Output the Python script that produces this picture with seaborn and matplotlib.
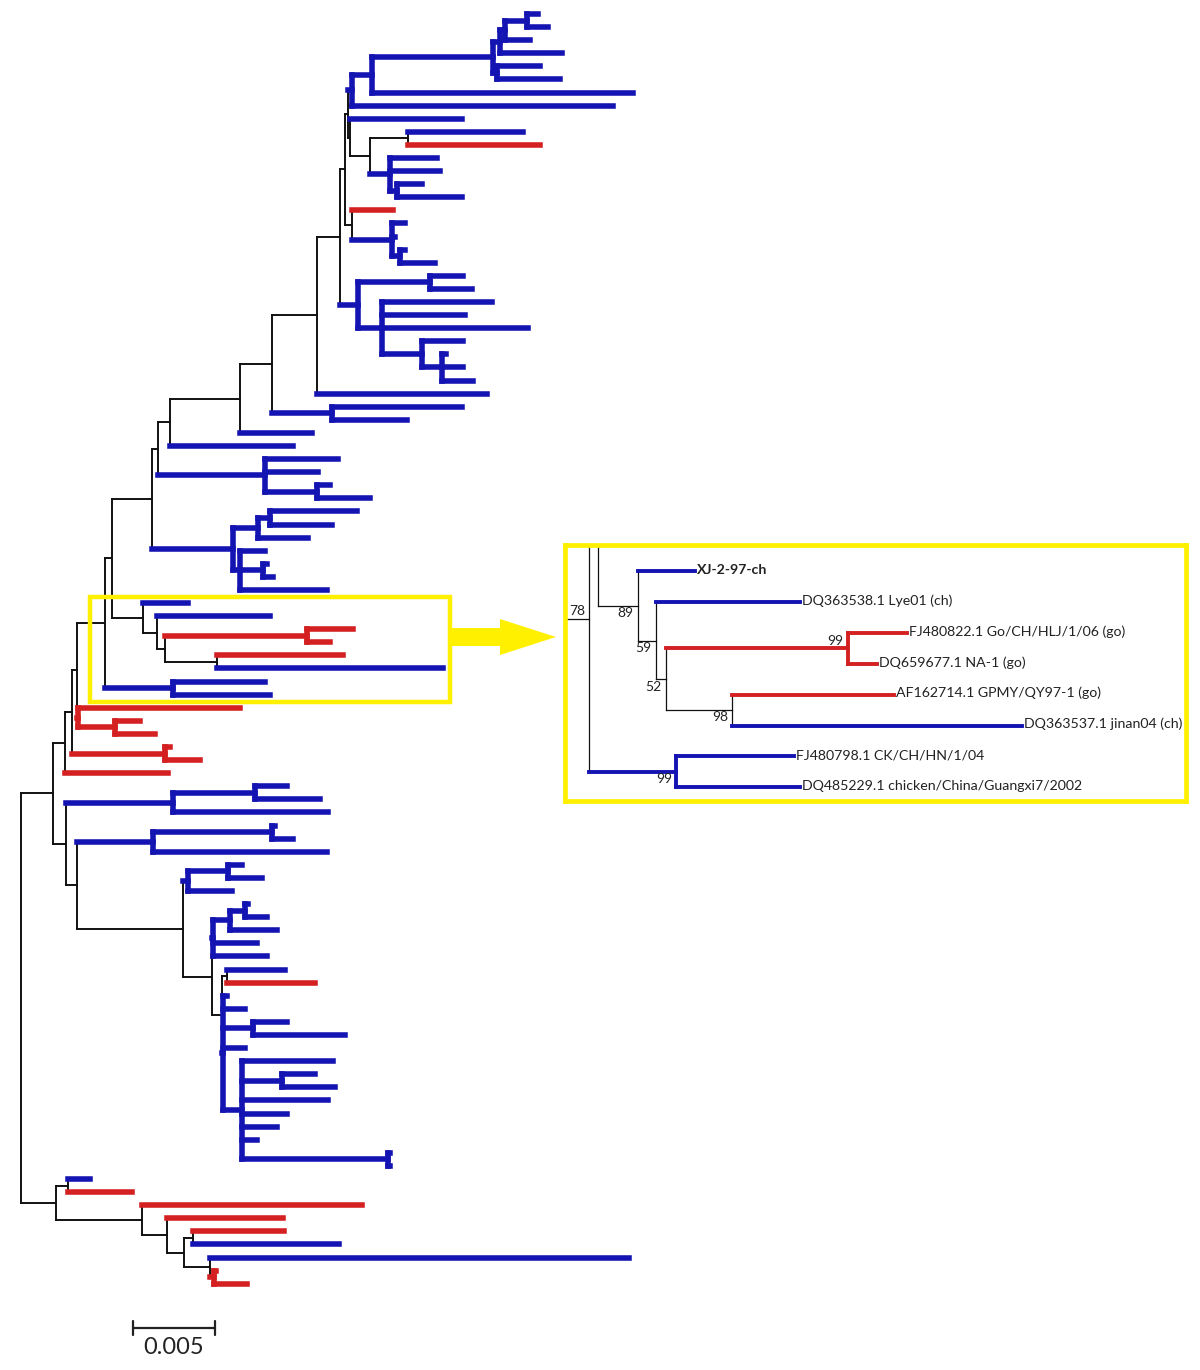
import re
import pandas as pd
import seaborn as sns
import matplotlib.pyplot as plt
from matplotlib.patches import Polygon, Rectangle

sns.set_theme(style="white")
plt.rcParams['font.family'] = ['Lato', 'DejaVu Sans']

# newick pieces, branch lengths in 1e-4 substitutions/site
# label after a leaf/clade = colour (b blue, r red, k black) + optional number
# (leaf: index into LEAF_NAMES, internal node: bootstrap value)
TOP_CLADE = "((((((b:6.7,b:12.8)b:13.4,b:15.2)b:3.0,b:37.8)b:4.3,(b:26.2,b:38.4)b:2.4)b:73.8,b:159.2)b:12.2,b:159.2)b:2.4"
CLADE_370 = "((b:70.1,r:80.5)k:23.2,(b:28.7,b:30.5,(b:15.2,b:39.6)b:4.3)b:12.2)k:12.2"
CLADE_210 = "(r:25.0,(b:7.9,b:1.8,(b:3.0,b:21.3)b:4.9)b:24.4)k:4.3"
CLADE_300 = "((b:20.1,b:25.6)b:43.9,(b:67.1,b:50.6,b:89.0,(b:25.0,(b:2.4,b:12.8,b:18.9)b:12.2)b:24.4)b:14.6)b:11.0"
CLADE_460 = "(b:44.5,b:32.3,(b:7.9,b:32.3)b:31.7)b:65.3"
CLADE_530 = "(((b:53.1,b:37.8)b:7.3,b:30.5)b:15.2,(b:15.2,(b:2.4,b:6.1)b:14.0,b:53.1)b:4.3)b:49.4"
INSET_TOP = "(b1:27.4,(b2:68.9,((r3:28.1,r4:14.0)r99:86.6,(r5:76.9,b6:137.8)k98:31.7)k52:4.9)k59:8.5)k89:18.9"
INSET_BOTTOM = "(b7:56.1,b8:59.2)b99:41.5"
RED_710 = "(r:98.8,(r:15.2,r:24.4)r:22.6)r:0.6"
RED_750 = "(r:3.0,r:21.3)r:56.7"
MID_A = "((b:19.5,b:39.6)b:50.0,b:94.5)b:65.3"
MID_B = "((b:1.8,b:12.8)b:72.6,b:106.1)b:46.3"
MID_C = "((b:8.5,b:20.7)b:24.4,b:26.8)b:3.0"
MID_D = "(((b:1.8,b:13.4)b:9.1,b:28.7)b:10.4,b:26.8,b:32.9)b:0.6"
MID_E = "(b:35.4,r:53.7)k:3.0"
MID_F = "(b:55.5,(b:20.1,b:32.3)b:24.4,b:52.4,b:27.4,b:21.3,b:9.1,(b:1.2,b:1.2)b:89.0)b:11.6"
BASAL = "((b:13.4,r:39.0)k:7.3,(r:134.1,(r:70.7,((r:55.5,b:89.0)k:5.5,(b:255.5,(r:1.2,r:20.1)r:2.4)k:15.9)k:10.4)k:15.2)k:52.4)k:21.3"

LEAF_NAMES = ["XJ-2-97-ch", "DQ363538.1 Lye01 (ch)", "FJ480822.1 Go/CH/HLJ/1/06 (go)",
              "DQ659677.1 NA-1 (go)", "AF162714.1 GPMY/QY97-1 (go)", "DQ363537.1 jinan04 (ch)",
              "FJ480798.1 CK/CH/HN/1/04", "DQ485229.1 chicken/China/Guangxi7/2002"]
SCALE_LEN = 50  # = 0.005
SCALE_TEXT = "0.005"

# put the pieces together
upper = f"((({TOP_CLADE},(b:68.3,{CLADE_370})k:1.2)k:1.8,{CLADE_210})k:3.0,{CLADE_300})k:14.0"
t = f"({upper},b:103.7)k:27.4"
t = f"({t},(b:79.3,b:45.7)b:36.6)k:19.5"
t = f"({t},b:43.9)k:42.7"
t = f"({t},b:75.0)k:7.3"
t = f"({t},{CLADE_460})k:3.7"
t = f"({t},{CLADE_530})k:24.4"
t = f"({t},{INSET_TOP})k:4.3"
t = f"({t},{INSET_BOTTOM})k78:17.1"
t = f"({t},{RED_710})k:3.0"
t = f"({t},{RED_750})k:4.3"
upper_half = f"({t},r:62.8)k:7.3"
mid = f"(b:2.4,b:13.4,(b:20.7,b:56.1)b:18.3,b:13.4,{MID_F})b:0.6"
mid = f"({MID_E},{mid})k:6.1"
mid = f"({MID_D},{mid})k:17.7"
mid = f"({MID_C},{mid})k:64.6"
mid = f"({MID_B},{mid})k:6.7"
mid = f"({MID_A},{mid})k:7.9"
TREE = f"(({upper_half},{mid})k:19.5,{BASAL})k;"

COLORS = {'b': '#1414b2', 'r': '#d42020', 'k': '#111111'}
YELLOW = '#fff000'
W, H = 1200, 1370
ROOT_PX, PX_PER_UNIT = 21, 82 / SCALE_LEN
LEAF0_PX, LEAF_STEP_PX = 14, 13.09

tok = re.compile(r'([brk])(\d*)(?::([\d.]+))?')


def parse_newick(text):
    pos = 0

    def clade():
        nonlocal pos
        kids = []
        if text[pos] == '(':
            pos += 1
            kids.append(clade())
            while text[pos] == ',':
                pos += 1
                kids.append(clade())
            pos += 1
        m = tok.match(text, pos)
        pos = m.end()
        return {'col': m.group(1), 'tag': int(m.group(2)) if m.group(2) else None,
                'len': float(m.group(3) or 0), 'kids': kids}
    return clade()


def layout(node, x0, leaves, nodes):
    node['x'] = x0 + node['len']
    nodes.append(node)
    if node['kids']:
        for k in node['kids']:
            layout(k, node['x'], leaves, nodes)
        node['y'] = (node['kids'][0]['y'] + node['kids'][-1]['y']) / 2
    else:
        node['y'] = len(leaves)
        leaves.append(node)


tree = parse_newick(TREE)
leaves, nodes = [], []
layout(tree, 0.0, leaves, nodes)

rows = []
for n in nodes:
    if n['kids']:
        s = len(rows) // 2
        rows += [(s, n['x'], n['kids'][0]['y'], n['col']), (s, n['x'], n['kids'][-1]['y'], n['col'])]
    for k in n['kids']:
        s = len(rows) // 2
        rows += [(s, n['x'], k['y'], k['col']), (s, k['x'], k['y'], k['col'])]
segs = pd.DataFrame(rows, columns=['seg', 'x', 'y', 'col'])


def draw_tree(ax, widths):
    for col in ['k', 'b', 'r']:
        sub = segs[segs.col == col]
        sns.lineplot(data=sub, x='x', y='y', units='seg', estimator=None, sort=False,
                     color=COLORS[col], linewidth=widths[col], solid_capstyle='projecting',
                     legend=False, ax=ax)
    ax.set(xlabel='', ylabel='')


def px_x(px):
    return (px - ROOT_PX) / PX_PER_UNIT


def px_y(py):
    return (py - LEAF0_PX) / LEAF_STEP_PX


fig = plt.figure(figsize=(W / 100, H / 100), dpi=100)
ax = fig.add_axes([0, 0, 1, 1])
draw_tree(ax, {'k': 1.4, 'b': 4.0, 'r': 4.0})
ax.set_xlim(px_x(0), px_x(W))
ax.set_ylim(px_y(H), px_y(0))
ax.axis('off')

# scale bar
sx, sy = px_x(133), px_y(1328)
ax.plot([sx, sx + SCALE_LEN], [sy, sy], color='#222222', lw=1.6)
for xx in (sx, sx + SCALE_LEN):
    ax.plot([xx, xx], [sy - 0.5, sy + 0.5], color='#222222', lw=1.6)
ax.text(sx + SCALE_LEN / 2, px_y(1337), SCALE_TEXT, ha='center', va='top', fontsize=17, color='#222222')

# zoomed inset of the bootstrap-78 clade
n78 = next(n for n in nodes if n['tag'] == 78 and n['kids'])
first_y = next(n['y'] for n in leaves if n['tag'] == 1)
L, R, T, B = 565, 1186, 545, 801
k_in = PX_PER_UNIT * 1.28
step_in = 30.9
axi = fig.add_axes([L / W, 1 - B / H, (R - L) / W, (B - T) / H])
draw_tree(axi, {'k': 0.9, 'b': 2.8, 'r': 2.8})
axi.set_xlim(n78['x'] - (589 - L) / k_in, n78['x'] + (R - 589) / k_in)
axi.set_ylim(first_y + (B - 571) / step_in, first_y - (571 - T) / step_in)
axi.set_xticks([])
axi.set_yticks([])
for sp in axi.spines.values():
    sp.set_visible(True)
    sp.set_color(YELLOW)
    sp.set_linewidth(3.4)
    sp.set_zorder(10)

above = {(78, 'k'), (99, 'r')}
for n in nodes:
    if n['tag'] is None:
        continue
    if n['kids']:
        up = (n['tag'], n['col']) in above
        axi.annotate(str(n['tag']), (n['x'], n['y']), xytext=(-3, 1 if up else -1),
                     textcoords='offset points', ha='right', va='bottom' if up else 'top',
                     fontsize=10, color='#222222')
    else:
        axi.annotate(LEAF_NAMES[n['tag'] - 1], (n['x'], n['y']), xytext=(1.5, 1),
                     textcoords='offset points', ha='left', va='center', fontsize=10.2,
                     color='#222222', weight='bold' if n['tag'] == 1 else 'normal')

# highlight box and arrow
fig.add_artist(Rectangle((90 / W, 1 - 702 / H), 360 / W, 105 / H, transform=fig.transFigure,
                         fill=False, ec=YELLOW, lw=3.2))
arrow_px = [(452, 628), (500, 628), (500, 619), (556, 637), (500, 655), (500, 646), (452, 646)]
fig.add_artist(Polygon([(x / W, 1 - y / H) for x, y in arrow_px], closed=True,
                       transform=fig.transFigure, fc=YELLOW, ec='none'))

fig.savefig('out.png', dpi=100, facecolor='white')
